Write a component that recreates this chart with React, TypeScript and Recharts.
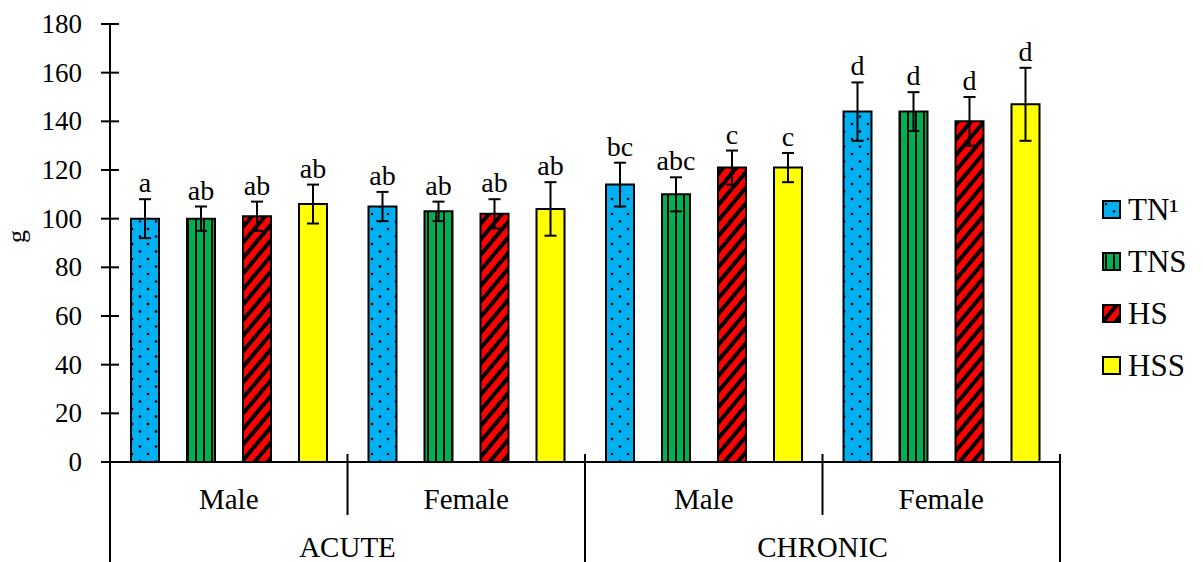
import React from 'react';
import { BarChart, Bar, XAxis, YAxis, ErrorBar, LabelList } from 'recharts';

// values (g)
const groups = ['ACUTE', 'ACUTE', 'CHRONIC', 'CHRONIC'];
const sexes = ['Male', 'Female', 'Male', 'Female'];

const tn = [100, 105, 114, 144];
const tnErr = [8, 6, 9, 12];
const tnSig = ['a', 'ab', 'bc', 'd'];

const tns = [100, 103, 110, 144];
const tnsErr = [5, 4, 7, 8];
const tnsSig = ['ab', 'ab', 'abc', 'd'];

const hs = [101, 102, 121, 140];
const hsErr = [6, 6, 7, 10];
const hsSig = ['ab', 'ab', 'c', 'd'];

const hss = [106, 104, 121, 147];
const hssErr = [8, 11, 6, 15];
const hssSig = ['ab', 'ab', 'c', 'd'];

const yTicks = [0, 20, 40, 60, 80, 100, 120, 140, 160, 180];

const series = [
  { key: 'tn', name: 'TN\u00B9', fill: 'url(#dots)' },
  { key: 'tns', name: 'TNS', fill: 'url(#vlines)' },
  { key: 'hs', name: 'HS', fill: 'url(#diag)' },
  { key: 'hss', name: 'HSS', fill: '#FFFF00' },
];

const data = sexes.map((sex, i) => ({
  key: `${groups[i]}-${sex}`,
  sex,
  group: groups[i],
  tn: tn[i], tnErr: tnErr[i], tnSig: tnSig[i],
  tns: tns[i], tnsErr: tnsErr[i], tnsSig: tnsSig[i],
  hs: hs[i], hsErr: hsErr[i], hsSig: hsSig[i],
  hss: hss[i], hssErr: hssErr[i], hssSig: hssSig[i],
}));

const W = 1203;
const H = 562;
const margin = { top: 24, right: 143, left: 0, bottom: 0 };
const Y_AXIS_W = 110;
const plotW = W - margin.right - margin.left - Y_AXIS_W;
const band = plotW / sexes.length;
const groupBand = plotW / 2;
const FONT = "'Liberation Serif', 'Times New Roman', serif";

const YTick = (props: any) => {
  const { x, y, payload } = props;
  return (
    <g>
      <line x1={x - 9} x2={x + 9} y1={y} y2={y} stroke="#000" strokeWidth={2} />
      <text x={x - 28} y={y} dy={9} textAnchor="end" fontFamily={FONT} fontSize={27} fill="#000">
        {payload.value}
      </text>
    </g>
  );
};

const SexTick = (props: any) => {
  const { x, y, index } = props;
  return (
    <g>
      {index % 2 === 0 && (
        <line x1={x + band / 2} x2={x + band / 2} y1={y - 8} y2={y + 53} stroke="#000" strokeWidth={2} />
      )}
      <text x={x} y={y + 47} textAnchor="middle" fontFamily={FONT} fontSize={29} fill="#000">
        {sexes[index]}
      </text>
    </g>
  );
};

const GroupTick = (props: any) => {
  const { x, y, payload } = props;
  return (
    <g>
      <line x1={x - groupBand / 2} x2={x - groupBand / 2} y1={y - 58} y2={y + 60} stroke="#000" strokeWidth={2} />
      <line x1={x + groupBand / 2} x2={x + groupBand / 2} y1={y - 58} y2={y + 60} stroke="#000" strokeWidth={2} />
      <text x={x} y={y + 45} textAnchor="middle" fontFamily={FONT} fontSize={29} fill="#000">
        {payload.value}
      </text>
    </g>
  );
};

const sigLabel = (key: string) => (props: any) => {
  const { x, y, width, height, index } = props;
  const row: any = data[index];
  const v = row[key];
  const err = row[key + 'Err'];
  const errTop = y - (err * height) / v;
  return (
    <text x={x + width / 2} y={errTop - 7} textAnchor="middle" fontFamily={FONT} fontSize={28} fill="#000">
      {row[key + 'Sig']}
    </text>
  );
};

const LegendBox = () => (
  <div style={{ position: 'absolute', left: 1102, top: 184, fontFamily: FONT, fontSize: 31, color: '#000' }}>
    {series.map((s) => (
      <div key={s.key} style={{ display: 'flex', alignItems: 'center', height: 52 }}>
        <svg width={20} height={20} style={{ marginRight: 6 }}>
          <rect x={1} y={1} width={17} height={17} fill={s.fill} stroke="#000" strokeWidth={2} />
        </svg>
        <span>{s.name}</span>
      </div>
    ))}
  </div>
);

export default function App() {
  return (
    <div style={{ position: 'fixed', left: 0, top: 0, width: W, height: H, background: '#fff' }}>
      <BarChart width={W} height={H} data={data} margin={margin} barSize={28} barGap={28}>
        <defs>
          <pattern id="dots" width="16" height="15" patternUnits="userSpaceOnUse">
            <rect width="16" height="15" fill="#00B0F0" />
            <circle cx="4" cy="4" r="1.3" fill="#000" />
            <circle cx="12" cy="11.5" r="1.3" fill="#000" />
          </pattern>
          <pattern id="vlines" width="8" height="8" patternUnits="userSpaceOnUse">
            <rect width="8" height="8" fill="#00B050" />
            <rect x="3" width="2" height="8" fill="#000" />
          </pattern>
          <pattern id="diag" width="10" height="10" patternUnits="userSpaceOnUse" patternTransform="rotate(40)">
            <rect width="10" height="10" fill="#FF0000" />
            <rect width="4" height="10" fill="#000" />
          </pattern>
        </defs>
        <XAxis
          xAxisId="a"
          dataKey="key"
          height={50}
          tickSize={0}
          tickMargin={0}
          tickLine={false}
          axisLine={{ stroke: '#000', strokeWidth: 2 }}
          tick={<SexTick />}
          interval={0}
        />
        <XAxis
          xAxisId="b"
          dataKey="group"
          allowDuplicatedCategory={false}
          height={50}
          tickSize={0}
          tickMargin={0}
          tickLine={false}
          axisLine={false}
          tick={<GroupTick />}
          interval={0}
        />
        <YAxis
          width={Y_AXIS_W}
          domain={[0, 180]}
          ticks={yTicks}
          interval={0}
          tickSize={0}
          tickMargin={0}
          tickLine={false}
          axisLine={{ stroke: '#000', strokeWidth: 2 }}
          tick={<YTick />}
          label={{ value: 'g', angle: -90, position: 'insideLeft', offset: 16, style: { fontFamily: FONT, fontSize: 26, fill: '#000' } }}
        />
        {series.map((s) => (
          <Bar
            key={s.key}
            xAxisId="a"
            dataKey={s.key}
            name={s.name}
            fill={s.fill}
            stroke="#000"
            strokeWidth={2}
            isAnimationActive={false}
          >
            <ErrorBar dataKey={s.key + 'Err'} width={6} stroke="#000" strokeWidth={2} direction="y" />
            <LabelList dataKey={s.key + 'Sig'} content={sigLabel(s.key)} />
          </Bar>
        ))}
      </BarChart>
      <LegendBox />
    </div>
  );
}
